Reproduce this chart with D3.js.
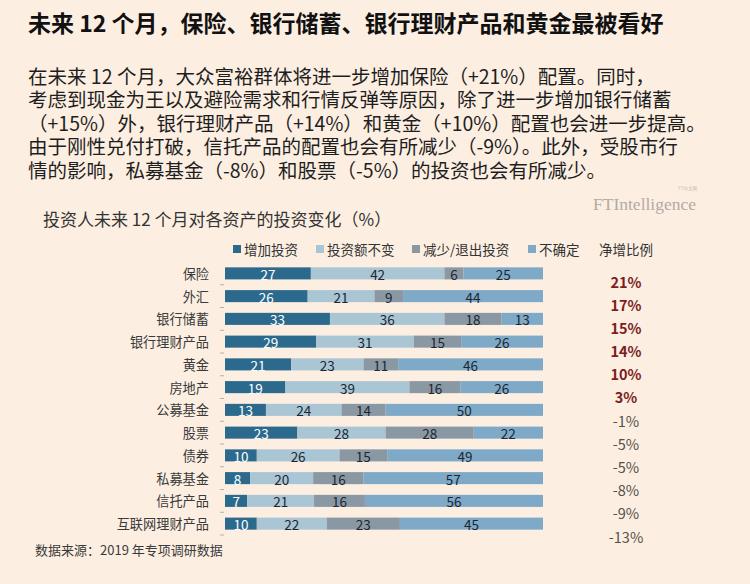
<!DOCTYPE html>
<html><head><meta charset="utf-8">
<script src="https://cdn.jsdelivr.net/npm/d3@7"></script>
<style>
html,body{margin:0;padding:0;background:#fcefe2;}
svg{display:block;}
text{font-family:"Noto Sans CJK SC","Noto Sans",sans-serif;}
text.wm{font-family:"Liberation Serif","DejaVu Serif",serif;}
</style></head>
<body>
<script>
const categories = ["保险","外汇","银行储蓄","银行理财产品","黄金","房地产","公募基金","股票","债券","私募基金","信托产品","互联网理财产品"];
const seriesNames = ["增加投资","投资额不变","减少/退出投资","不确定"];
const increase  = [27,26,33,29,21,19,13,23,10,8,7,10];
const unchanged = [42,21,36,31,23,39,24,28,26,20,21,22];
const decrease  = [6,9,18,15,11,16,14,28,15,16,16,23];
const unsure    = [25,44,13,26,46,26,50,22,49,57,56,45];
const netLabels = ["21%","17%","15%","14%","10%","3%","-1%","-5%","-5%","-8%","-9%","-13%"];

const W = 750, H = 584;
const colors = ["#2c6a8d","#aac5d4","#8a98a4","#7ea9c7"];
const textColors = ["#ffffff","#1c2733","#1c2733","#1c2733"];

const svg = d3.select("body").append("svg").attr("width", W).attr("height", H);
svg.append("rect").attr("width", W).attr("height", H).attr("fill", "#fcefe2");

// Title
svg.append("text").attr("x", 28).attr("y", 22).attr("dominant-baseline","central")
  .attr("font-size", 23).attr("font-weight", 700).attr("fill", "#111")
  .text("未来 12 个月，保险、银行储蓄、银行理财产品和黄金最被看好");

const para = [
  "在未来 12 个月，大众富裕群体将进一步增加保险（+21%）配置。同时，",
  "考虑到现金为王以及避险需求和行情反弹等原因，除了进一步增加银行储蓄",
  "（+15%）外，银行理财产品（+14%）和黄金（+10%）配置也会进一步提高。",
  "由于刚性兑付打破，信托产品的配置也会有所减少（-9%）。此外，受股市行",
  "情的影响，私募基金（-8%）和股票（-5%）的投资也会有所减少。"
];
svg.append("g").selectAll("text").data(para).join("text")
  .attr("x", 28).attr("y", (d,i) => 75 + i*23.5).attr("dominant-baseline","central")
  .attr("font-size", 19.5).attr("fill", "#1e1e1e").text(d => d);

// Watermark
svg.append("text").attr("class","wm").attr("x", 593).attr("y", 204).attr("dominant-baseline","central")
  .attr("font-size", 17.5).attr("fill", "#b3aaa5").text("FTIntelligence");
svg.append("text").attr("x", 697).attr("y", 188).attr("text-anchor","end").attr("dominant-baseline","central")
  .attr("font-size", 4.5).attr("fill", "#c2b9b3").text("FT中文网");

// Chart title
svg.append("text").attr("x", 43).attr("y", 218).attr("dominant-baseline","central")
  .attr("font-size", 17).attr("fill", "#333").text("投资人未来 12 个月对各资产的投资变化（%）");

// Legend
const legendX = [233, 316, 412, 528];
const lg = svg.append("g");
seriesNames.forEach((n,i) => {
  lg.append("rect").attr("x", legendX[i]).attr("y", 245).attr("width", 8).attr("height", 8).attr("fill", colors[i]);
  lg.append("text").attr("x", legendX[i]+11).attr("y", 249).attr("dominant-baseline","central")
    .attr("font-size", 13.5).attr("fill", "#333").text(n);
});
lg.append("text").attr("x", 599).attr("y", 249).attr("dominant-baseline","central")
  .attr("font-size", 13.5).attr("fill", "#333").text("净增比例");

// Data table
const rows = categories.map((c,i) => ({cat:c, s0:increase[i], s1:unchanged[i], s2:decrease[i], s3:unsure[i]}));
const keys = ["s0","s1","s2","s3"];
const stack = d3.stack().keys(keys).offset(d3.stackOffsetExpand);
const stacked = stack(rows);

const x = d3.scaleLinear().domain([0,1]).range([225, 543]);
const y = d3.scaleBand().domain(categories).range([262, 535]).paddingInner(0.47).paddingOuter(0.235);

const layers = svg.append("g").selectAll("g").data(stacked).join("g")
  .attr("fill", (d,i) => colors[i]);
layers.selectAll("rect").data(d => d).join("rect")
  .attr("x", d => x(d[0])).attr("width", d => x(d[1]) - x(d[0]))
  .attr("y", d => y(d.data.cat)).attr("height", y.bandwidth());

const lab = svg.append("g");
stacked.forEach((layer, li) => {
  lab.selectAll(null).data(layer).join("text")
    .attr("x", d => (x(d[0]) + x(d[1]))/2)
    .attr("y", d => y(d.data.cat) + y.bandwidth()/2 + 0.5)
    .attr("text-anchor","middle").attr("dominant-baseline","central")
    .attr("font-size", 13.5).attr("fill", textColors[li])
    .text(d => d.data[layer.key]);
});

// Y axis (labels + small ticks at band boundaries)
const yAxis = svg.append("g").attr("transform", "translate(224,0)");
yAxis.selectAll("text").data(categories).join("text")
  .attr("x", -15).attr("y", d => y(d) + y.bandwidth()/2)
  .attr("text-anchor","end").attr("dominant-baseline","central")
  .attr("font-size", 13.2).attr("fill", "#3a3a3a").text(d => d);
const step = y.step();
const bounds = d3.range(categories.length + 1).map(i => 262 + step*i);
yAxis.selectAll("line").data(bounds.slice(1)).join("line")
  .attr("x1", -4).attr("x2", 0).attr("y1", d => d).attr("y2", d => d)
  .attr("stroke", "#b8b0a8").attr("stroke-width", 1);

// Net change column
const yn = d3.scaleBand().domain(categories).range([269.5, 547.6]);
svg.append("g").selectAll("text").data(categories).join("text")
  .attr("x", 626).attr("y", d => yn(d) + yn.bandwidth()/2)
  .attr("text-anchor","middle").attr("dominant-baseline","central")
  .attr("font-size", 14.5)
  .attr("font-weight", (d,i) => netLabels[i].startsWith("-") ? 400 : 700)
  .attr("fill", (d,i) => netLabels[i].startsWith("-") ? "#555049" : "#7d1d1d")
  .text((d,i) => netLabels[i]);

// Footer
svg.append("text").attr("x", 35).attr("y", 549).attr("dominant-baseline","central")
  .attr("font-size", 13).attr("fill", "#3a3a3a").text("数据来源：2019 年专项调研数据");
</script>
</body></html>
